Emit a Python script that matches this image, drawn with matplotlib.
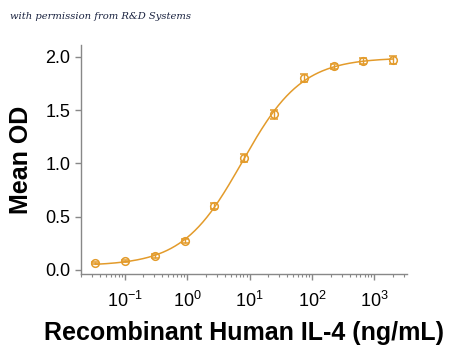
import numpy as np
import matplotlib
matplotlib.use('Agg')
import matplotlib.pyplot as plt

# IL-4 concentration (ng/mL) and mean OD
conc = [0.0339, 0.1016, 0.305, 0.914, 2.74, 8.23, 24.7, 74.1, 222.2, 666.7, 2000.0]
mean_od = [0.06, 0.08, 0.13, 0.27, 0.60, 1.05, 1.46, 1.80, 1.91, 1.96, 1.97]
od_err = [0.01, 0.01, 0.015, 0.015, 0.03, 0.035, 0.04, 0.035, 0.025, 0.03, 0.035]

xticks = [0.1, 1, 10, 100, 1000]
xticklabels = ['$\\mathregular{10^{-1}}$', '$\\mathregular{10^{0}}$', '$\\mathregular{10^{1}}$',
               '$\\mathregular{10^{2}}$', '$\\mathregular{10^{3}}$']
yticks = [0.0, 0.5, 1.0, 1.5, 2.0]

color = '#E39B2B'

# 4PL fit of the points: grid over (c, b), linear least squares for bottom/top
x = np.array(conc)
y = np.array(mean_od)
best = None
for c in np.logspace(0, 2, 200):
    for b in np.linspace(0.5, 2.0, 151):
        f = 1.0 / (1.0 + (x / c) ** b)
        A = np.column_stack([f, 1 - f])
        coef, res, _, _ = np.linalg.lstsq(A, y, rcond=None)
        err = np.sum((A @ coef - y) ** 2)
        if best is None or err < best[0]:
            best = (err, c, b, coef)
_, c, b, (bottom, top) = best
xs = np.logspace(np.log10(conc[0]), np.log10(conc[-1]), 300)
ys = top + (bottom - top) / (1.0 + (xs / c) ** b)

plt.rcParams['font.family'] = ['Liberation Sans', 'DejaVu Sans']

fig = plt.figure(figsize=(4.5, 3.5), dpi=100)
ax = fig.add_axes([0.18, 0.217, 0.724, 0.654])

ax.plot(xs, ys, color=color, lw=1.1)
ax.errorbar(conc, mean_od, yerr=od_err, fmt='o', mfc='none', mec=color, ecolor=color,
            ms=5.5, mew=1.1, elinewidth=1.0, capsize=3, capthick=1.0)

ax.set_xscale('log')
ax.set_xlim(10 ** -1.7, 10 ** 3.52)
ax.set_ylim(-0.04, 2.11)
ax.set_xticks(xticks)
ax.set_xticklabels(xticklabels)
ax.set_yticks(yticks)
ax.set_yticklabels(['%.1f' % v for v in yticks])

for s in ['top', 'right']:
    ax.spines[s].set_visible(False)
for s in ['left', 'bottom']:
    ax.spines[s].set_color('#888888')
    ax.spines[s].set_linewidth(1.0)
ax.tick_params(axis='both', colors='#888888', labelcolor='black', labelsize=13, length=4, width=1.0)
ax.tick_params(axis='x', which='minor', colors='#888888', length=2.5, width=0.8)
ax.tick_params(axis='x', pad=8)

ax.set_ylabel('Mean OD', fontsize=18, fontweight='bold', labelpad=9)
ax.set_xlabel('Recombinant Human IL-4 (ng/mL)', fontsize=18, fontweight='bold', labelpad=7)

fig.text(0.022, 0.945, 'with permission from R&D Systems', fontsize=7.2, style='italic',
         family='DejaVu Serif', color='#1a2340')

fig.savefig('out.png', dpi=100)
